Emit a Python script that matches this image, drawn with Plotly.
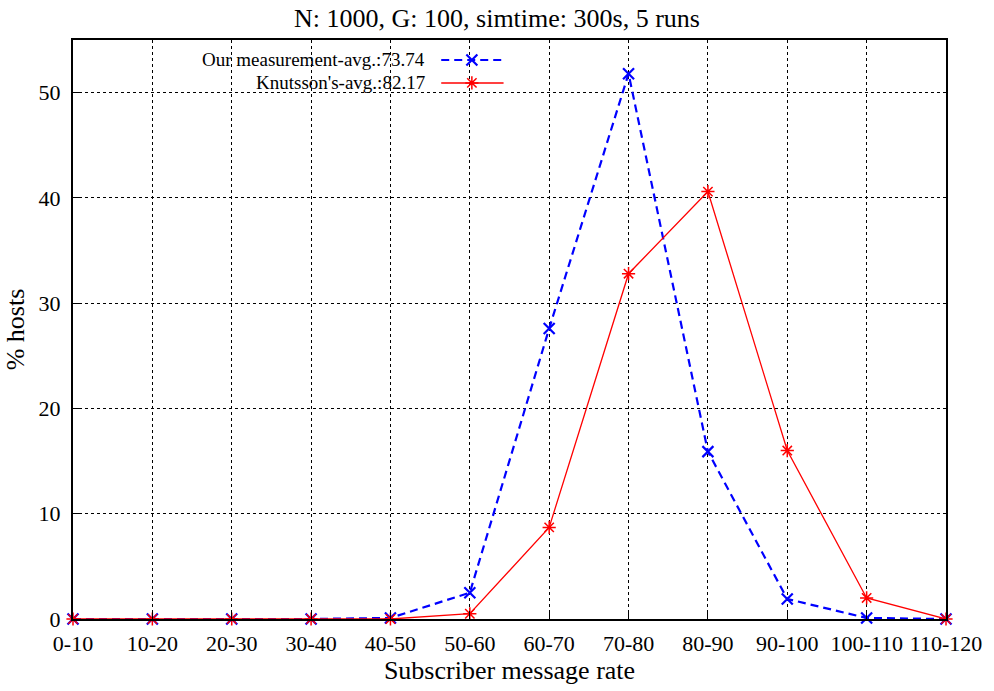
import plotly.graph_objects as go

# Subscriber message-rate histogram (percentage of hosts per bucket)
categories = ["0-10", "10-20", "20-30", "30-40", "40-50", "50-60",
              "60-70", "70-80", "80-90", "90-100", "100-110", "110-120"]
ours = [0, 0, 0, 0, 0.1, 2.5, 27.6, 51.8, 15.9, 1.9, 0.1, 0]
knutsson = [0, 0, 0, 0, 0, 0.5, 8.7, 32.8, 40.6, 16.0, 2.0, 0]
ours_label = "Our measurement-avg.:73.74"
knutsson_label = "Knutsson's-avg.:82.17"
y_ticks = [0, 10, 20, 30, 40, 50]

FONT = "Liberation Serif"
BLUE = "#0000ff"
RED = "#ff0000"
DASH = "8px,5px"

fig = go.Figure()

fig.add_trace(go.Scatter(
    x=categories, y=ours, mode="lines+markers", name=ours_label,
    line=dict(color=BLUE, width=2.2, dash=DASH),
    marker=dict(symbol="x-thin-open", size=11, color=BLUE, line=dict(width=2.2, color=BLUE)),
    cliponaxis=False, showlegend=False,
))
fig.add_trace(go.Scatter(
    x=categories, y=knutsson, mode="lines+markers", name=knutsson_label,
    line=dict(color=RED, width=1.3),
    marker=dict(symbol="asterisk-open", size=11, color=RED, line=dict(width=1.5, color=RED)),
    cliponaxis=False, showlegend=False,
))

# Key drawn in gnuplot style: right-aligned text followed by a line sample
key_rows = [
    (ours_label, 0.9655, BLUE, DASH, 2.2, "x-thin-open"),
    (knutsson_label, 0.9259, RED, "solid", 1.5, "asterisk-open"),
]
for label, ky, color, dash, width, symbol in key_rows:
    fig.add_trace(go.Scatter(
        x=[0.4218, 0.4932], y=[ky, ky], xaxis="x2", yaxis="y2", mode="lines",
        line=dict(color=color, width=width, dash=dash), showlegend=False, hoverinfo="skip",
    ))
    fig.add_trace(go.Scatter(
        x=[0.4569], y=[ky], xaxis="x2", yaxis="y2", mode="markers",
        marker=dict(symbol=symbol, size=11, color=color, line=dict(width=width, color=color)),
        showlegend=False, hoverinfo="skip",
    ))
    fig.add_annotation(
        x=0.405, y=ky, xref="paper", yref="paper", text=label, showarrow=False,
        xanchor="right", yanchor="middle", font=dict(family=FONT, size=19, color="black"),
    )

# White area behind the key hides the grid there
fig.add_shape(type="rect", xref="paper", yref="paper", x0=0.085, x1=0.507, y0=0.9, y1=1.0,
              fillcolor="white", line=dict(width=0), layer="between")

fig.update_layout(
    width=994, height=691,
    margin=dict(l=73, r=39, t=40, b=71),
    paper_bgcolor="white", plot_bgcolor="white",
    font=dict(family=FONT, size=22, color="black"),
    title=dict(text="N: 1000, G: 100, simtime: 300s, 5 runs", x=0.5, xanchor="center",
               y=0.974, yanchor="middle", font=dict(family=FONT, size=26)),
    xaxis=dict(
        type="category", range=[0, 11], categoryorder="array", categoryarray=categories,
        showgrid=True, gridcolor="black", griddash="dot", gridwidth=1,
        showline=True, linecolor="black", linewidth=2, mirror=True,
        ticks="inside", ticklen=8, tickcolor="black", ticklabelstandoff=4,
        tickfont=dict(size=22),
        title=dict(text="Subscriber message rate", font=dict(size=26), standoff=4),
        zeroline=False,
    ),
    yaxis=dict(
        range=[0, 55], tickvals=y_ticks,
        showgrid=True, gridcolor="black", griddash="dot", gridwidth=1,
        showline=True, linecolor="black", linewidth=2, mirror=True,
        ticks="inside", ticklen=8, tickcolor="black", ticklabelstandoff=6,
        tickfont=dict(size=22),
        title=dict(text="% hosts", font=dict(size=26), standoff=6),
        zeroline=False,
    ),
    xaxis2=dict(overlaying="x", range=[0, 1], visible=False, fixedrange=True),
    yaxis2=dict(overlaying="y", range=[0, 1], visible=False, fixedrange=True),
)

fig.write_html("out.html")
